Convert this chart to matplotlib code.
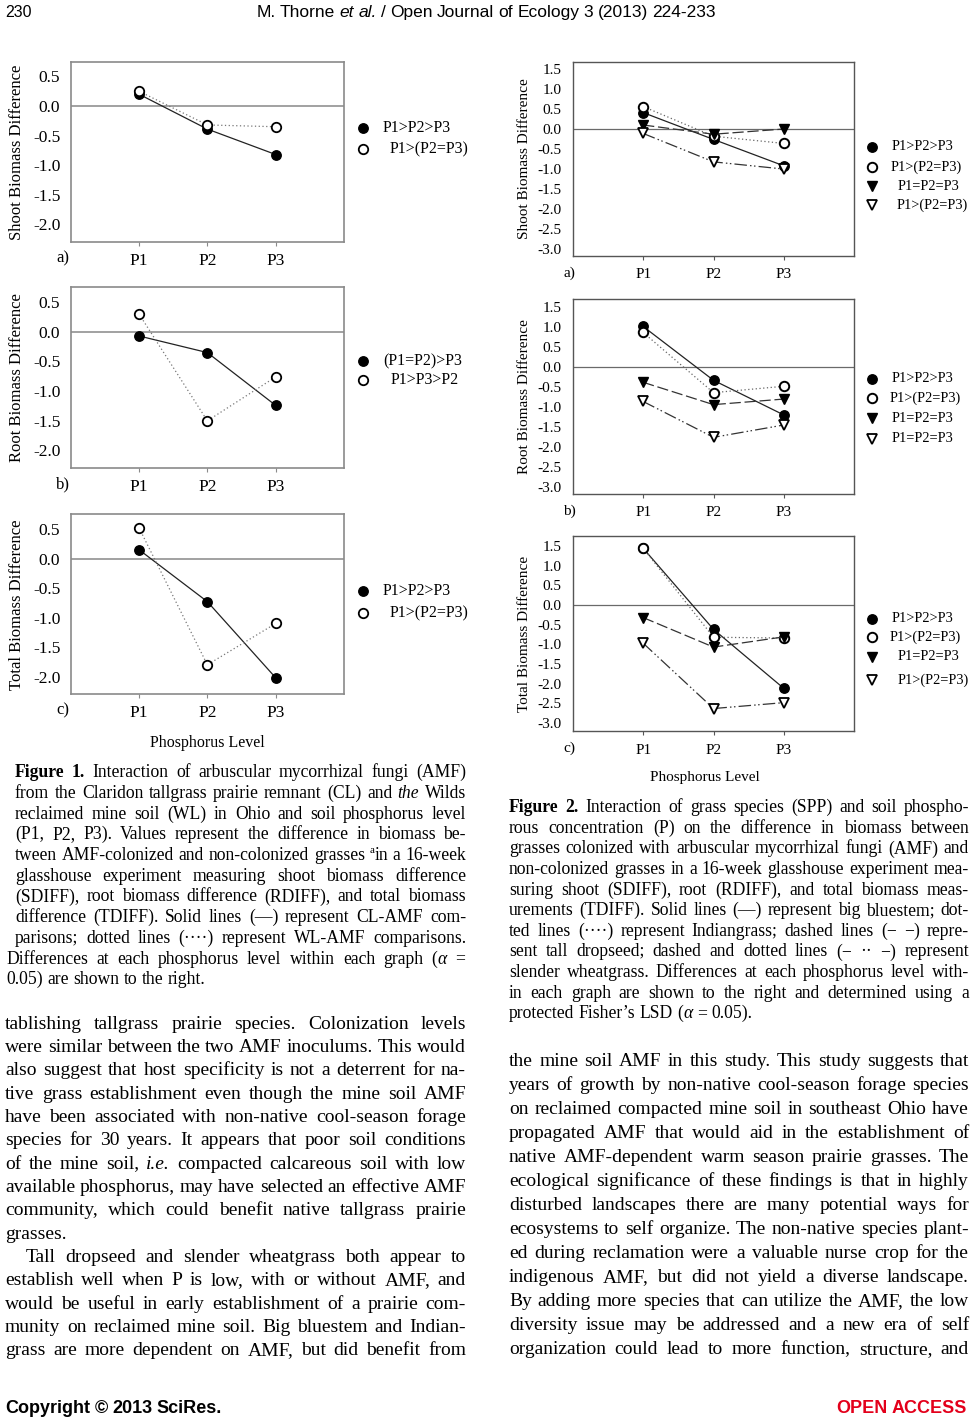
import re
import matplotlib
matplotlib.use("Agg")
import matplotlib.pyplot as plt
from matplotlib.lines import Line2D
from matplotlib.transforms import IdentityTransform

W, H = 972, 1419
SERIF = ["Liberation Serif", "DejaVu Serif"]
SANS = ["Liberation Sans Narrow", "Liberation Sans", "DejaVu Sans"]
plt.rcParams["font.family"] = SERIF
plt.rcParams["axes.unicode_minus"] = False

# ---------------- data ----------------
p_levels = ["P1", "P2", "P3"]

# Figure 1: CL-AMF (solid) and WL-AMF (dotted)
shoot_cl = [0.20, -0.39, -0.82]
shoot_wl = [0.25, -0.32, -0.35]
root_cl = [-0.07, -0.35, -1.24]
root_wl = [0.30, -1.50, -0.76]
total_cl = [0.15, -0.73, -2.02]
total_wl = [0.52, -1.80, -1.10]
fig1_letters_shoot = ["P1>P2>P3", "P1>(P2=P3)"]
fig1_letters_root = ["(P1=P2)>P3", "P1>P3>P2"]
fig1_letters_total = ["P1>P2>P3", "P1>(P2=P3)"]

# Figure 2: big bluestem, Indiangrass, tall dropseed, slender wheatgrass
shoot_bluestem = [0.41, -0.26, -0.92]
shoot_indian = [0.56, -0.18, -0.36]
shoot_dropseed = [0.10, -0.13, 0.00]
shoot_wheat = [-0.11, -0.82, -1.00]
root_bluestem = [1.02, -0.33, -1.20]
root_indian = [0.87, -0.64, -0.48]
root_dropseed = [-0.38, -0.94, -0.80]
root_wheat = [-0.86, -1.76, -1.45]
total_bluestem = [1.44, -0.62, -2.12]
total_indian = [1.44, -0.82, -0.84]
total_dropseed = [-0.32, -1.07, -0.81]
total_wheat = [-0.97, -2.63, -2.48]
fig2_letters_shoot = ["P1>P2>P3", "P1>(P2=P3)", "P1=P2=P3", "P1>(P2=P3)"]
fig2_letters_root = ["P1>P2>P3", "P1>(P2=P3)", "P1=P2=P3", "P1=P2=P3"]
fig2_letters_total = ["P1>P2>P3", "P1>(P2=P3)", "P1=P2=P3", "P1>(P2=P3)"]

fig = plt.figure(figsize=(W / 100, H / 100), dpi=100)
fig.patch.set_facecolor("white")
renderer = fig.canvas.get_renderer()
ID = IdentityTransform()


def put(x, y, s, **kw):
    # x, y in pixels from the top-left corner
    return fig.text(x, H - y, s, transform=ID, **kw)


def rect(l, t, r, b):
    return [l / W, 1 - b / H, (r - l) / W, (b - t) / H]


def legend_entry(x, y, style):
    fig.add_artist(Line2D([x], [H - y], transform=ID, ls="none", **style))


# ---------------- figure 1 (left column) ----------------
F1_GREY = "#8a8a8a"
cl_style = dict(marker="o", ms=6.8, mfc="black", mec="black", mew=1.0)
wl_style = dict(marker="o", ms=6.8, mfc="white", mec="black", mew=1.3)


def fig1_panel(box, cl, wl, ylabel, letters, tag, text_x, leg_y):
    l, t, r, b = box
    ax = fig.add_axes(rect(l, t, r, b))
    x = [1, 2, 3]
    ax.axhline(0, color="#9a9a9a", lw=1.3, zorder=1)
    ax.plot(x, cl, ls="-", color="#222222", lw=0.9, zorder=3, **cl_style)
    ax.plot(x, wl, ls=(0, (1, 2)), color="#777777", lw=0.9, zorder=4, **wl_style)
    ax.set_xlim(0, 4)
    ax.set_ylim(-2.3, 0.75)
    ax.set_yticks([0.5, 0.0, -0.5, -1.0, -1.5, -2.0])
    ax.set_yticklabels(["%.1f" % v for v in [0.5, 0.0, -0.5, -1.0, -1.5, -2.0]])
    ax.set_xticks(x, p_levels)
    for s in ax.spines.values():
        s.set_color(F1_GREY)
        s.set_linewidth(1.2)
    ax.tick_params(axis="y", length=0, pad=7.5, labelsize=12.5)
    ax.tick_params(axis="x", length=3, width=0.8, color=F1_GREY, pad=5, labelsize=12.5)
    put(17, (t + b) / 2, ylabel, rotation=90, ha="center", va="center", fontsize=12)
    put(56, b + 16, tag, ha="left", va="center", fontsize=12)
    for k, (lab, st) in enumerate(zip(letters, [cl_style, wl_style])):
        legend_entry(363, leg_y[k], st)
        put(text_x[k], leg_y[k], lab, ha="left", va="center", fontsize=11.5)
    return ax


fig1_panel((70.7, 61.7, 344, 242), shoot_cl, shoot_wl, "Shoot Biomass Difference",
           fig1_letters_shoot, "a)", [383, 390], [128, 149])
fig1_panel((70.7, 287.3, 344, 468.3), root_cl, root_wl, "Root Biomass Difference",
           fig1_letters_root, "b)", [383, 391], [361, 380])
fig1_panel((70.7, 514.3, 344, 694.3), total_cl, total_wl, "Total Biomass Difference",
           fig1_letters_total, "c)", [383, 390], [591, 613])
put(207, 743, "Phosphorus Level", ha="center", va="center", fontsize=11.5)

# ---------------- figure 2 (right column) ----------------
F2_FRAME = "#555555"
sp_styles = [
    dict(ls="-", color="#222222", lw=0.9,
         marker="o", ms=6.8, mfc="black", mec="black", mew=1.0),
    dict(ls=(0, (1, 2)), color="#666666", lw=0.9,
         marker="o", ms=6.8, mfc="white", mec="black", mew=1.4),
    dict(ls=(0, (9, 3)), color="#333333", lw=0.9,
         marker="v", ms=7.4, mfc="black", mec="black", mew=1.0),
    dict(ls=(0, (10, 2.5, 1.2, 2, 1.2, 2.5)), color="#333333", lw=0.9,
         marker="v", ms=7.4, mfc="white", mec="black", mew=1.3),
]
leg_keys = ("marker", "ms", "mfc", "mec", "mew")


def fig2_panel(box, series, ylim, ylabel, letters, tag, text_x, leg_y):
    l, t, r, b = box
    ax = fig.add_axes(rect(l, t, r, b))
    x = [1, 2, 3]
    ax.axhline(0, color="#6a6a6a", lw=0.9, zorder=1)
    for k, (vals, st) in enumerate(zip(series, sp_styles)):
        ax.plot(x, vals, zorder=3 + k, **st)
    ax.set_xlim(0, 4)
    ax.set_ylim(*ylim)
    ticks = [1.5, 1.0, 0.5, 0.0, -0.5, -1.0, -1.5, -2.0, -2.5, -3.0]
    ax.set_yticks(ticks)
    ax.set_yticklabels(["%.1f" % v for v in ticks])
    ax.set_xticks(x, p_levels)
    for s in ax.spines.values():
        s.set_color(F2_FRAME)
        s.set_linewidth(1.0)
    ax.tick_params(axis="y", length=0, pad=8, labelsize=11)
    ax.tick_params(axis="x", length=3, width=0.8, color=F2_FRAME, pad=6, labelsize=11)
    put(524, (t + b) / 2, ylabel, rotation=90, ha="center", va="center", fontsize=11)
    put(563, b + 17, tag, ha="left", va="center", fontsize=11)
    for k, lab in enumerate(letters):
        st = {kk: sp_styles[k][kk] for kk in leg_keys}
        legend_entry(872, leg_y[k], st)
        put(text_x[k], leg_y[k], lab, ha="left", va="center", fontsize=10.4)
    return ax


fig2_panel((572.7, 61.7, 854.3, 256),
           [shoot_bluestem, shoot_indian, shoot_dropseed, shoot_wheat], (-3.17, 1.68),
           "Shoot Biomass Difference", fig2_letters_shoot, "a)",
           [892, 891, 898, 897], [147, 167, 186, 205])
fig2_panel((572.7, 299.3, 854.3, 494),
           [root_bluestem, root_indian, root_dropseed, root_wheat], (-3.18, 1.70),
           "Root Biomass Difference", fig2_letters_root, "b)",
           [892, 890, 892, 892], [379, 398, 418, 439])
fig2_panel((572.7, 536, 854.3, 731),
           [total_bluestem, total_indian, total_dropseed, total_wheat], (-3.2, 1.75),
           "Total Biomass Difference", fig2_letters_total, "c)",
           [892, 890, 898, 898], [619, 637, 657, 680])
put(705, 778, "Phosphorus Level", ha="center", va="center", fontsize=11)

# ---------------- running text ----------------
SEG = re.compile(r"(\*\*.+?\*\*|_.+?_|\^.+?\^)")


def parse_words(line):
    words = [[]]
    for part in SEG.split(line):
        if not part:
            continue
        if part.startswith("**"):
            style, part = "b", part[2:-2]
        elif part.startswith("_") and part.endswith("_") and len(part) > 1:
            style, part = "i", part[1:-1]
        elif part.startswith("^") and part.endswith("^"):
            style, part = "s", part[1:-1]
        else:
            style = "n"
        for k, piece in enumerate(part.split(" ")):
            if k > 0:
                words.append([])
            if piece:
                words[-1].append((piece, style))
    return [w for w in words if w]


def make_words(line, size, family, color, weight):
    em = size * 100 / 72
    arts, widths = [], []
    for word in parse_words(line):
        parts, wsum = [], 0
        for txt, st in word:
            kw = dict(fontsize=size, family=family, color=color, va="baseline",
                      ha="left", fontweight=weight)
            dy = 0
            if st == "b":
                kw["fontweight"] = "bold"
            elif st == "i":
                kw["fontstyle"] = "italic"
            elif st == "s":
                kw["fontsize"] = size * 0.62
                dy = 0.42 * em
            tx = put(0, 0, txt, **kw)
            w = tx.get_window_extent(renderer).width
            parts.append((tx, wsum, dy))
            wsum += w
        arts.append(parts)
        widths.append(wsum)
    return arts, widths


def natural_width(line, size, family=SERIF):
    arts, widths = make_words(line, size, family, "black", "normal")
    for parts in arts:
        for tx, _, _ in parts:
            tx.remove()
    return sum(widths) + 0.25 * size * 100 / 72 * (len(widths) - 1)


def text_line(line, x0, x1, y, size, mode="justify", family=SERIF, color="black", weight="normal"):
    em = size * 100 / 72
    arts, widths = make_words(line, size, family, color, weight)
    n = len(widths)
    total = sum(widths)
    gap = 0.25 * em
    if mode == "justify" and n > 1:
        gap = (x1 - x0 - total) / (n - 1)
    span = total + gap * (n - 1)
    if mode == "center":
        x = (x0 + x1) / 2 - span / 2
    elif mode == "right":
        x = x1 - span
    else:
        x = x0
    base = H - (y + 0.3 * em)
    for parts, w in zip(arts, widths):
        for tx, off, dy in parts:
            tx.set_position((x + off, base + dy))
        x += w + gap


def fit_size(lines, x0, x1, last=()):
    # largest size so that the tightest justified line has normal word spaces
    best = None
    for i, ln in enumerate(lines):
        if i in last:
            continue
        xs = x0 + 21 if ln.startswith(">") else x0
        s = 10 * (x1 - xs) / natural_width(ln.lstrip(">"), 10)
        best = s if best is None else min(best, s)
    return best


def block(lines, x0, x1, y0, step, size, last=()):
    for i, ln in enumerate(lines):
        xs = x0
        mode = "justify"
        if ln.startswith(">"):
            ln = ln[1:]
            xs = x0 + 21
        if i in last:
            mode = "left"
        text_line(ln, xs, x1, y0 + i * step, size, mode)


cap1 = [
    "**Figure 1.** Interaction of arbuscular mycorrhizal fungi (AMF)",
    "from the Claridon tallgrass prairie remnant (CL) and _the_ Wilds",
    "reclaimed mine soil (WL) in Ohio and soil phosphorus level",
    "(P1, P2, P3). Values represent the difference in biomass be-",
    "tween AMF-colonized and non-colonized grasses ^a^in a 16-week",
    "glasshouse experiment measuring shoot biomass difference",
    "(SDIFF), root biomass difference (RDIFF), and total biomass",
    "difference (TDIFF). Solid lines (—) represent CL-AMF com-",
    "parisons; dotted lines (····) represent WL-AMF comparisons.",
]
cap1_end = [
    "Differences at each phosphorus level within each graph (_α_ =",
    "0.05) are shown to the right.",
]
cap2 = [
    "**Figure 2.** Interaction of grass species (SPP) and soil phospho-",
    "rous concentration (P) on the difference in biomass between",
    "grasses colonized with arbuscular mycorrhizal fungi (AMF) and",
    "non-colonized grasses in a 16-week glasshouse experiment mea-",
    "suring shoot (SDIFF), root (RDIFF), and total biomass meas-",
    "urements (TDIFF). Solid lines (—) represent big bluestem; dot-",
    "ted lines (····) represent Indiangrass; dashed lines (− −) repre-",
    "sent tall dropseed; dashed and dotted lines (− ·· −) represent",
    "slender wheatgrass. Differences at each phosphorus level with-",
    "in each graph are shown to the right and determined using a",
    "protected Fisher’s LSD (_α_ = 0.05).",
]
body_left = [
    "tablishing tallgrass prairie species. Colonization levels",
    "were similar between the two AMF inoculums. This would",
    "also suggest that host specificity is not a deterrent for na-",
    "tive grass establishment even though the mine soil AMF",
    "have been associated with non-native cool-season forage",
    "species for 30 years. It appears that poor soil conditions",
    "of the mine soil, _i.e._ compacted calcareous soil with low",
    "available phosphorus, may have selected an effective AMF",
    "community, which could benefit native tallgrass prairie",
    "grasses.",
    ">Tall dropseed and slender wheatgrass both appear to",
    "establish well when P is low, with or without AMF, and",
    "would be useful in early establishment of a prairie com-",
    "munity on reclaimed mine soil. Big bluestem and Indian-",
    "grass are more dependent on AMF, but did benefit from",
]
body_right = [
    "the mine soil AMF in this study. This study suggests that",
    "years of growth by non-native cool-season forage species",
    "on reclaimed compacted mine soil in southeast Ohio have",
    "propagated AMF that would aid in the establishment of",
    "native AMF-dependent warm season prairie grasses. The",
    "ecological significance of these findings is that in highly",
    "disturbed landscapes there are many potential ways for",
    "ecosystems to self organize. The non-native species plant-",
    "ed during reclamation were a valuable nurse crop for the",
    "indigenous AMF, but did not yield a diverse landscape.",
    "By adding more species that can utilize the AMF, the low",
    "diversity issue may be addressed and a new era of self",
    "organization could lead to more function, structure, and",
]

cap_size = min(fit_size(cap1, 15, 466), fit_size(cap2, 509, 969, last=(10,)))
body_size = min(fit_size(body_left, 5, 466, last=(9,)), fit_size(body_right, 509, 969))

block(cap1, 15, 466, 772, 20.7, cap_size)
block(cap1_end, 6, 465, 772 + 9 * 20.7, 20.7, cap_size, last=(1,))
block(cap2, 509, 969, 807, 20.6, cap_size, last=(10,))
block(body_left, 5, 466, 1022.7, 23.33, body_size, last=(9,))
block(body_right, 509, 969, 1060, 24.0, body_size)

# ---------------- header and footer ----------------
text_line("230", 5, 60, 12, 11.5, mode="left", family=SANS)
text_line("M. Thorne _et al._ / Open Journal of Ecology 3 (2013) 224-233", 0, W, 12, 12.5,
          mode="center", family=SANS)
text_line("Copyright © 2013 SciRes.", 5, 400, 1408, 13, mode="left", family=SANS, weight="bold")
text_line("OPEN ACCESS", 600, 967, 1408, 13, mode="right", family=SANS, weight="bold",
          color="#e3001b")

fig.savefig("out.png", dpi=100, facecolor="white")
